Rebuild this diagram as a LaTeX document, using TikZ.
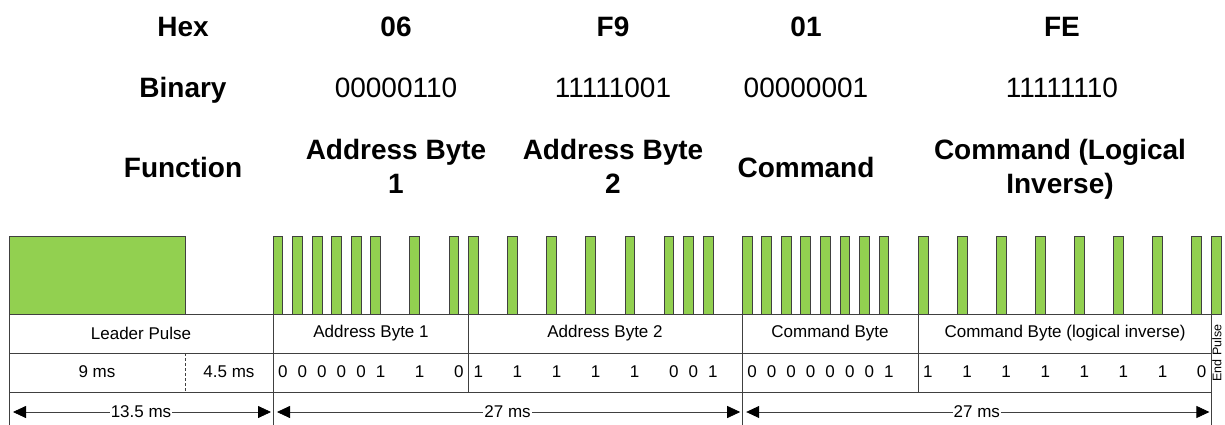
\documentclass[tikz,border=0pt]{standalone}
\usepackage{fontspec}
\setmainfont{Liberation Sans}
\usetikzlibrary{arrows.meta}
\definecolor{pulsegreen}{HTML}{92D050}
\definecolor{rulegray}{HTML}{404040}

\begin{document}
\begin{tikzpicture}[x=1pt,y=-1pt,
  head/.style={font=\fontsize{28}{34}\selectfont\bfseries,align=center,anchor=base},
  bin/.style={font=\fontsize{28}{34}\selectfont,anchor=base},
  cell/.style={font=\fontsize{17}{20}\selectfont},
  pulse/.style={draw=rulegray,fill=pulsegreen,line width=0.8pt},
  rule/.style={draw=rulegray,line width=0.8pt},
  dimtip/.tip={Triangle[length=13pt,width=12pt,color=black,fill=black]},
  dim/.style={rule,dimtip-dimtip,shorten <=4pt,shorten >=2pt}]
\useasboundingbox (0,0) rectangle (1225,425);

% header rows
\node[head] (hexlbl) at (183,37) {Hex};
\node[head] (hex1) at (396,37) {06};
\node[head] (hex2) at (613,37) {F9};
\node[head] (hex3) at (806,37) {01};
\node[head] (hex4) at (1062,37) {FE};

\node[head] (binlbl) at (183,98) {Binary};
\node[bin] (bin1) at (396,98) {00000110};
\node[bin] (bin2) at (613,98) {11111001};
\node[bin] (bin3) at (806,98) {00000001};
\node[bin] (bin4) at (1062,98) {11111110};

\node[head] (fnlbl) at (183,177) {Function};
\node[head] (fn1) at (396,193) {Address Byte\\1};
\node[head] (fn2) at (613,193) {Address Byte\\2};
\node[head] (fn3) at (806,177) {Command};
\node[head] (fn4) at (1060,193) {Command (Logical\\Inverse)};

% waveform
\draw[pulse] (9,236) rectangle (185,314);
\xdef\tpos{0}
\foreach \b [count=\i] in {0,0,0,0,0,1,1,0, 1,1,1,1,1,0,0,1,
                           0,0,0,0,0,0,0,1, 1,1,1,1,1,1,1,0}{
  \pgfmathsetmacro\xa{273+\tpos*19.55}
  \draw[pulse] (\xa,236) rectangle ++(9.8,78);
  \node[cell] (bit\i) at (\xa+9.8,372) {\b};
  \pgfmathsetmacro\np{\tpos+1+\b}
  \xdef\tpos{\np}
}
\draw[pulse] (1211.4,236) rectangle ++(9.8,78);

% table
\draw[rule] (9,314) -- (1221.2,314);
\draw[rule] (9,353) -- (1211.4,353);
\draw[rule] (9,392) -- (1211.4,392);
\foreach \x in {9,273,742.2,1211.4} \draw[rule] (\x,314) -- (\x,425);
\foreach \x in {468.5,918.2} \draw[rule] (\x,314) -- (\x,392);
\draw[rule,dash pattern=on 3pt off 2pt] (185,353) -- (185,392);

\node[cell] (leadname) at (141,333) {Leader Pulse};
\node[cell] (addr1name) at (371,333) {Address Byte 1};
\node[cell] (addr2name) at (605,333) {Address Byte 2};
\node[cell] (cmdname) at (830,333) {Command Byte};
\node[cell] (invname) at (1065,333) {Command Byte (logical inverse)};
\node[cell] (mark) at (97,372) {9 ms};
\node[cell] (space) at (229,372) {4.5 ms};
\node[font=\fontsize{12.5}{14}\selectfont,rotate=90] (endname) at (1217,353) {End Pulse};

% durations
\coordinate (d0) at (9,412);
\coordinate (d1) at (273,412);
\coordinate (d2) at (742.2,412);
\coordinate (d3) at (1211.4,412);
\draw[dim] (d0) -- node[cell,fill=white,inner sep=1pt] (leadtime) {13.5 ms} (d1);
\draw[dim] (d1) -- node[cell,fill=white,inner sep=1pt] (addrtime) {27 ms} (d2);
\draw[dim] (d2) -- node[cell,fill=white,inner sep=1pt] (cmdtime) {27 ms} (d3);
\end{tikzpicture}
\end{document}
